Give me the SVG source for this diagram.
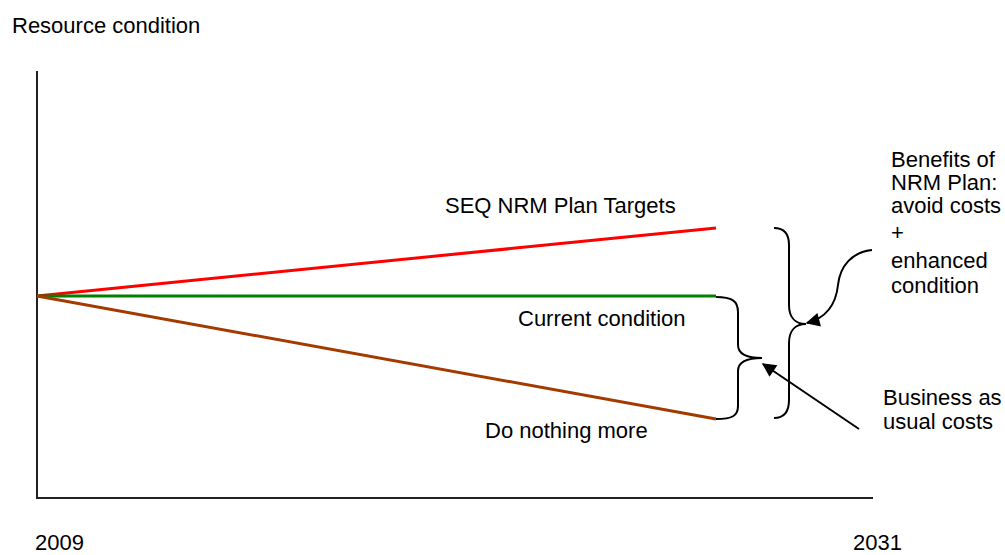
<svg xmlns="http://www.w3.org/2000/svg" width="1005" height="555" viewBox="0 0 1005 555">
<style>
text{font-family:"Liberation Sans",Arial,sans-serif;font-size:22px;fill:#000}
.ax{stroke:#222;stroke-width:2;fill:none}
.br{stroke:#000;stroke-width:2;fill:none}
.ln{stroke-width:3;fill:none}
</style>
<defs>
<marker id="ah" viewBox="0 0 10 10" refX="9" refY="5" markerWidth="8" markerHeight="7" orient="auto" markerUnits="strokeWidth">
<path d="M0,0 L10,5 L0,10 z" fill="#000"/>
</marker>
</defs>
<rect width="1005" height="555" fill="#fff"/>
<g id="axes">
<line class="ax" x1="37" y1="71" x2="37" y2="499"/>
<line class="ax" x1="36" y1="498" x2="873" y2="498"/>
<text x="12" y="33">Resource condition</text>
<text x="35" y="550">2009</text>
<text x="853" y="550">2031</text>
</g>
<g id="series">
<line class="ln" x1="37" y1="296" x2="716" y2="228" stroke="#ff0000"/>
<line class="ln" x1="37" y1="296" x2="716" y2="296" stroke="#008000"/>
<line class="ln" x1="37" y1="296" x2="716" y2="419" stroke="#a33a00"/>
</g>
<g id="labels">
<text x="445" y="213">SEQ NRM Plan Targets</text>
<text x="518" y="326">Current condition</text>
<text x="485" y="438">Do nothing more</text>
</g>
<g id="brace-small">
<path class="br" d="M716,297 C732,297 738,301 738,312 L738,345 C738,354 746,358 762,358 C746,358 738,362 738,371 L738,406 C738,416 732,419 716,419"/>
</g>
<g id="brace-large">
<path class="br" d="M774,228 C784,228 789,234 789,245 L789,305 C789,318 796,324 806,324 C796,324 789,330 789,343 L789,400 C789,412 784,418 774,418"/>
</g>
<g id="benefits">
<text x="891" y="167">Benefits of</text>
<text x="891" y="190">NRM Plan:</text>
<text x="891" y="213">avoid costs</text>
<text x="891" y="240">+</text>
<text x="891" y="268">enhanced</text>
<text x="891" y="293">condition</text>
</g>
<g id="bau">
<text x="883" y="405">Business as</text>
<text x="883" y="429">usual costs</text>
</g>
<g id="connectors">
<path class="br" d="M872,250 C852,252 840,266 838,285 C836,304 826,318 807,323" marker-end="url(#ah)"/>
<line class="br" x1="859" y1="429" x2="763" y2="364" marker-end="url(#ah)"/>
</g>
</svg>
